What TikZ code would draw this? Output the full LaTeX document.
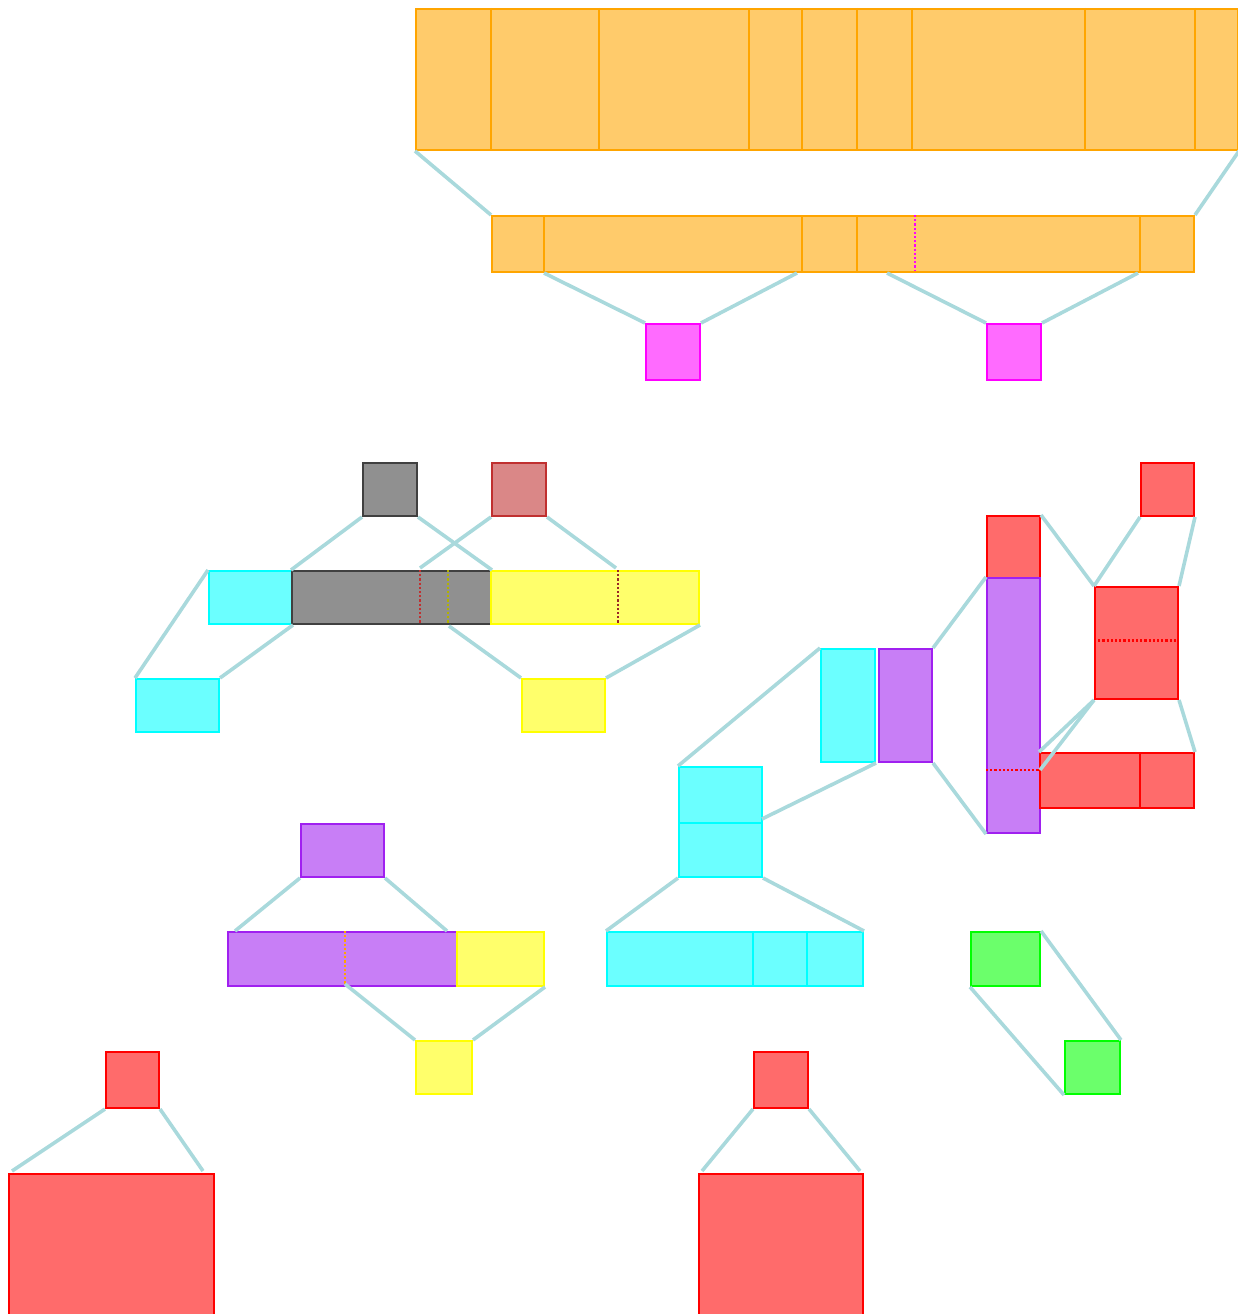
\documentclass[tikz,border=0pt]{standalone}
\usepackage{tikz}
\usetikzlibrary{positioning}
\usepackage{xcolor}
\definecolor{boxorange}{HTML}{FFA500}
\definecolor{boxmagenta}{HTML}{FF00FF}
\definecolor{boxgray}{HTML}{404040}
\definecolor{boxbrown}{HTML}{C03030}
\definecolor{boxcyan}{HTML}{00FFFF}
\definecolor{boxyellow}{HTML}{FFFF00}
\definecolor{boxpurple}{HTML}{A020F0}
\definecolor{boxred}{HTML}{FF0000}
\definecolor{boxgreen}{HTML}{00FF00}
\definecolor{linkblue}{HTML}{A9D9DC}

\begin{document}
\begin{tikzpicture}[x=1pt,y=-1pt,
  cell/.style={draw=#1,fill=#1!58,line width=2pt,inner sep=0pt,anchor=north west},
  sep/.style={draw=#1,line width=2pt},
  dsep/.style={draw=#1,line width=2.2pt,dotted},
  link/.style={draw=linkblue,line width=3.6pt}]
\useasboundingbox (0,0) rectangle (1238,1314);

\node[cell=boxorange,minimum width=822pt,minimum height=141pt] (otop) at (415,8) {};
\node[cell=boxorange,minimum width=702pt,minimum height=56pt] (orow) at (491,215) {};
\node[cell=boxmagenta,minimum width=54pt,minimum height=56pt] (ma) at (645,323) {};
\node[cell=boxmagenta,minimum width=54pt,minimum height=56pt] (mb) at (986,323) {};
\foreach \x in {491,599,749,802,857,912,1085,1195}
  \draw[sep=boxorange] (\x,8) -- (\x,149);
\foreach \x in {544,802,857,1140}
  \draw[sep=boxorange] (\x,215) -- (\x,271);
\draw[dsep=boxmagenta] (915,215) -- (915,271);

\node[cell=boxgray,minimum width=54pt,minimum height=53pt] (ktop) at (362,462) {};
\node[cell=boxbrown,minimum width=54pt,minimum height=53pt] (btop) at (491,462) {};
\node[cell=boxcyan,minimum width=83pt,minimum height=53pt] (crow) at (208,570) {};
\node[cell=boxgray,minimum width=199pt,minimum height=53pt] (krow) at (291,570) {};
\node[cell=boxyellow,minimum width=208pt,minimum height=53pt] (yrow) at (490,570) {};
\node[cell=boxcyan,minimum width=83pt,minimum height=53pt] (clow) at (135,678) {};
\node[cell=boxyellow,minimum width=83pt,minimum height=53pt] (ylow) at (521,678) {};
\draw[dsep=boxbrown] (420,570) -- (420,623);
\draw[dsep=boxyellow!70!black] (448,570) -- (448,623);
\draw[dsep=boxbrown!80!black] (618,570) -- (618,623);

\node[cell=boxred,minimum width=53pt,minimum height=53pt] (rtopr) at (1140,462) {};
\node[cell=boxred,minimum width=53pt,minimum height=62pt] (rcol) at (986,515) {};
\node[cell=boxpurple,minimum width=53pt,minimum height=255pt] (pcol) at (986,577) {};
\node[cell=boxred,minimum width=83pt,minimum height=112pt] (rpair) at (1094,586) {};
\node[cell=boxred,minimum width=154pt,minimum height=55pt] (rrow) at (1039,752) {};
\node[cell=boxcyan,minimum width=54pt,minimum height=113pt] (cbar) at (820,648) {};
\node[cell=boxpurple,minimum width=53pt,minimum height=113pt] (pbar) at (878,648) {};
\node[cell=boxcyan,minimum width=83pt,minimum height=110pt] (cstack) at (678,766) {};
\draw[dsep=boxred] (986,770) -- (1039,770);
\draw[dsep=boxred,line width=3pt] (1094,640) -- (1177,640);
\draw[sep=boxred] (1140,752) -- (1140,807);
\draw[sep=boxcyan] (678,823) -- (761,823);

\node[cell=boxpurple,minimum width=83pt,minimum height=53pt] (psmall) at (300,823) {};
\node[cell=boxpurple,minimum width=229pt,minimum height=54pt] (prow) at (227,931) {};
\node[cell=boxyellow,minimum width=87pt,minimum height=54pt] (yrow2) at (456,931) {};
\node[cell=boxyellow,minimum width=56pt,minimum height=53pt] (ysmall) at (415,1040) {};
\node[cell=boxcyan,minimum width=256pt,minimum height=54pt] (crow2) at (606,931) {};
\node[cell=boxgreen,minimum width=69pt,minimum height=54pt] (ga) at (970,931) {};
\node[cell=boxgreen,minimum width=55pt,minimum height=53pt] (gb) at (1064,1040) {};
\draw[dsep=boxorange] (345,931) -- (345,985);
\foreach \x in {753,807}
  \draw[sep=boxcyan] (\x,931) -- (\x,985);

\node[cell=boxred,minimum width=53pt,minimum height=56pt] (rs1) at (105,1051) {};
\node[cell=boxred,minimum width=205pt,minimum height=141pt] (rb1) at (8,1173) {};
\node[cell=boxred,minimum width=54pt,minimum height=56pt] (rs2) at (753,1051) {};
\node[cell=boxred,minimum width=164pt,minimum height=141pt] (rb2) at (698,1173) {};

\coordinate (o1) at (544,273);
\coordinate (o2) at (797,273);
\coordinate (o3) at (887,273);
\coordinate (o4) at (1138,273);
\coordinate (k1) at (420,568);
\coordinate (k2) at (449,626);
\coordinate (y1) at (616,568);
\coordinate (pd) at (1040,770);
\coordinate (cs) at (762,819);
\coordinate (pr1) at (235,931);
\coordinate (pr2) at (447,931);
\coordinate (pv) at (345,984);
\coordinate (b1) at (12,1171);
\coordinate (b2) at (203,1171);
\coordinate (b3) at (702,1171);
\coordinate (b4) at (860,1171);

\draw[link] (otop.south west) -- (orow.north west);
\draw[link] (otop.south east) -- (orow.north east);
\draw[link] (o1) -- (ma.north west);
\draw[link] (o2) -- (ma.north east);
\draw[link] (o3) -- (mb.north west);
\draw[link] (o4) -- (mb.north east);

\draw[link] (ktop.south west) -- (krow.north west);
\draw[link] (ktop.south east) -- (krow.north east);
\draw[link] (btop.south west) -- (k1);
\draw[link] (btop.south east) -- (y1);
\draw[link] (crow.north west) -- (clow.north west);
\draw[link] (crow.south east) -- (clow.north east);
\draw[link] (k2) -- (ylow.north west);
\draw[link] (yrow.south east) -- (ylow.north east);

\draw[link] (pbar.north east) -- (pcol.north west);
\draw[link] (pbar.south east) -- (pcol.south west);
\draw[link] (rcol.north east) -- (rpair.north west);
\draw[link] (rtopr.south west) -- (rpair.north west);
\draw[link] (rtopr.south east) -- (rpair.north east);
\draw[link] (rpair.south west) -- (rrow.north west);
\draw[link] (rpair.south west) -- (pd);
\draw[link] (rpair.south east) -- (rrow.north east);
\draw[link] (cbar.north west) -- (cstack.north west);
\draw[link] (cbar.south east) -- (cs);

\draw[link] (psmall.south west) -- (pr1);
\draw[link] (psmall.south east) -- (pr2);
\draw[link] (pv) -- (ysmall.north west);
\draw[link] (yrow2.south east) -- (ysmall.north east);
\draw[link] (cstack.south west) -- (crow2.north west);
\draw[link] (cstack.south east) -- (crow2.north east);
\draw[link] (ga.north east) -- (gb.north east);
\draw[link] (ga.south west) -- (gb.south west);

\draw[link] (rs1.south west) -- (b1);
\draw[link] (rs1.south east) -- (b2);
\draw[link] (rs2.south west) -- (b3);
\draw[link] (rs2.south east) -- (b4);
\end{tikzpicture}
\end{document}
